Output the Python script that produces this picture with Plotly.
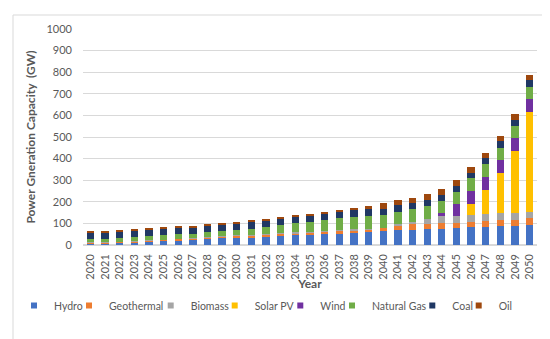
import plotly.graph_objects as go

years = [str(y) for y in range(2020, 2051)]

hydro = [8, 9, 11, 13, 16, 19, 22, 26, 30, 33, 35, 36, 39, 42, 45, 48, 50, 53, 56, 59, 63,
         68, 71, 72, 74, 77, 82, 85, 86, 89, 92]
geothermal = [3, 3, 4, 4, 5, 5, 6, 6, 7, 8, 9, 9, 10, 10, 10, 11, 12, 12, 13, 14, 16,
              24, 24, 25, 28, 26, 26, 27, 28, 28, 31]
biomass = [1, 1, 1, 1, 1, 1, 1, 1, 2, 2, 2, 2, 2, 2, 3, 3, 3, 3, 3, 3, 2,
           5, 12, 23, 33, 32, 30, 31, 32, 32, 31]
solar_pv = [0] * 26 + [50, 111, 186, 285, 461]
wind = [0] * 24 + [11, 54, 60, 61, 60, 60, 59]
natural_gas = [16, 17, 18, 19, 19, 20, 20, 20, 19, 21, 24, 29, 33, 38, 42, 44, 49, 56, 56, 57, 56,
               58, 58, 62, 59, 57, 60, 59, 59, 57, 58]
coal = [29, 30, 30, 30, 30, 30, 30, 30, 31, 31, 31, 31, 31, 31, 31, 31, 31, 31, 32, 32, 31,
        31, 30, 26, 26, 28, 27, 28, 29, 29, 30]
oil = [5, 5, 5, 5, 5, 5, 5, 5, 5, 5, 5, 5, 5, 5, 5, 5, 6, 7, 11, 16, 26,
       22, 24, 26, 26, 28, 27, 26, 25, 28, 27]

series_names = ["Hydro", "Geothermal", "Biomass", "Solar PV", "Wind", "Natural Gas", "Coal", "Oil"]
series_values = [hydro, geothermal, biomass, solar_pv, wind, natural_gas, coal, oil]
series_colors = ["#4472C4", "#ED7D31", "#A5A5A5", "#FFC000", "#7030A0", "#70AD47", "#203864", "#9E480E"]

y_ticks = list(range(0, 1001, 100))

W, H = 550, 339
ml, mr, mt, mb = 75, 21, 21, 102
pw, ph = W - ml - mr, H - mt - mb

def px_to_paper_x(px):
    return (px - ml) / pw

def px_to_paper_y(py):
    return (H - mb - py) / ph

# text start (px) of each legend entry in the reference
legend_text_px = [52, 107, 188.7, 252.7, 318.3, 370, 450.3, 496.7]

font_family = "Lato, 'Open Sans', sans-serif"
grey = "#595959"

fig = go.Figure()
legend_layouts = {}
for i, (name, vals, color) in enumerate(zip(series_names, series_values, series_colors)):
    key = "legend" if i == 0 else f"legend{i + 1}"
    fig.add_trace(go.Bar(name=name, x=years, y=vals, legendgroup=name, showlegend=False,
                         marker=dict(color=color, line=dict(width=0))))
    # legend entry with a small square key, toggles together with its bars
    fig.add_trace(go.Scatter(name=name, x=[None], y=[None], mode="markers", legendgroup=name,
                             legend=key, showlegend=True, hoverinfo="skip",
                             marker=dict(symbol="square", size=6, color=color)))
    legend_layouts[key] = dict(
        orientation="h",
        xref="container", yref="container",
        x=(legend_text_px[i] - 46) / W, xanchor="left",
        y=(H - 297.5) / H, yanchor="middle",
        font=dict(size=10.5, color=grey),
        bgcolor="rgba(0,0,0,0)",
        itemwidth=30,
        entrywidth=100,
        entrywidthmode="pixels",
        visible=True,
    )

fig.update_layout(
    width=W, height=H,
    barmode="stack",
    bargap=0.5,
    showlegend=True,
    paper_bgcolor="white",
    plot_bgcolor="white",
    margin=dict(l=ml, r=mr, t=mt, b=mb, autoexpand=False),
    font=dict(family=font_family, size=11, color=grey),
    xaxis=dict(
        type="category",
        categoryorder="array",
        categoryarray=years,
        tickangle=-90,
        tickfont=dict(size=11, color=grey),
        showgrid=False,
        showline=False,
        ticks="",
        automargin=False,
        ticklabelstandoff=6,
        title=dict(text="<b>Year</b>", font=dict(size=12, color=grey), standoff=11),
    ),
    yaxis=dict(
        range=[0, 1000],
        tickvals=y_ticks,
        tickfont=dict(size=11, color=grey),
        gridcolor="#D9D9D9",
        gridwidth=1,
        zeroline=True,
        zerolinecolor="#D9D9D9",
        showline=False,
        ticks="",
        automargin=False,
        ticklabelstandoff=10,
        title=dict(text="<b>Power Gneration Capacity  (GW)</b>", font=dict(size=12, color=grey), standoff=8),
    ),
    shapes=[
        dict(type="rect", xref="paper", yref="paper",
             x0=px_to_paper_x(5), x1=px_to_paper_x(543),
             y0=px_to_paper_y(335), y1=px_to_paper_y(7),
             line=dict(color="#D9D9D9", width=1), fillcolor="rgba(0,0,0,0)", layer="below"),
    ],
    **legend_layouts,
)

fig.write_html("out.html")
